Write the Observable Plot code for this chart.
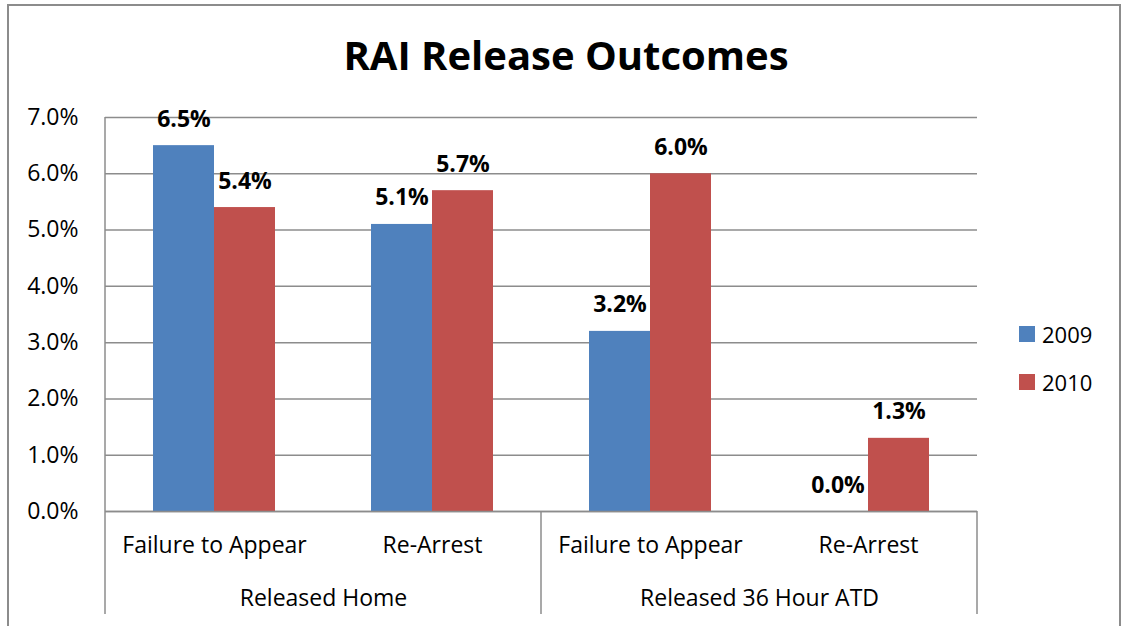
<!DOCTYPE html>
<html>
<head>
<meta charset="utf-8">
<script src="https://cdn.jsdelivr.net/npm/d3@7"></script>
<script src="https://cdn.jsdelivr.net/npm/@observablehq/plot@0.6"></script>
<style>
html, body { margin: 0; padding: 0; background: #fff; overflow: hidden; width: 1122px; height: 626px; }
#wrap { position: relative; width: 1122px; height: 626px; font-family: "Open Sans", sans-serif; color: #000; }
#frame { position: absolute; left: 7px; top: 4px; width: 1114px; height: 700px; border: 2px solid #8c8c8c; box-sizing: border-box; pointer-events: none; z-index: 5; }
#title { position: absolute; left: 8px; width: 1116px; top: 35px; height: 40px; line-height: 40px; text-align: center; font-weight: 700; font-size: 40px; color: #000; }
#chart { position: absolute; left: 0; top: 100px; }
#legend { position: absolute; left: 1019px; top: 310px; color: #000; }
#legend .lg-swatches { font-family: "Open Sans", sans-serif !important; font-size: 22px !important; margin: 0 !important; }
#legend .lg-swatch { height: 48px !important; padding: 0 !important; margin: 0 !important; display: flex !important; align-items: center !important; }
#legend .lg-swatch svg { margin-right: 7px !important; }
</style>
</head>
<body>
<div id="wrap">
  <div id="title">RAI Release Outcomes</div>
  <div id="chart"></div>
  <div id="legend"></div>
  <div id="frame"></div>
</div>
<script>
// ---- data ----
const groups = ["Released Home", "Released Home", "Released 36 Hour ATD", "Released 36 Hour ATD"];
const measures = ["Failure to Appear", "Re-Arrest", "Failure to Appear", "Re-Arrest"];
const years = ["2009", "2010"];
const values2009 = [6.5, 5.1, 3.2, 0.0];
const values2010 = [5.4, 5.7, 6.0, 1.3];
const yTicks = [0, 1, 2, 3, 4, 5, 6, 7];
const colors = ["#4F81BD", "#C0504D"];

// ---- tables built from the arrays ----
const keys = measures.map((m, i) => groups[i] + "|" + m);
const rows = [];
keys.forEach((k, i) => {
  rows.push({key: k, year: years[0], value: values2009[i]});
  rows.push({key: k, year: years[1], value: values2010[i]});
});
const groupLabels = [...new Set(groups)].map(g => ({group: g, key: keys[groups.indexOf(g)]}));

const H = 526;
const FS = 23;
const plot = Plot.plot({
  width: 1122,
  height: H,
  marginTop: 17,
  marginBottom: 115,
  marginLeft: 104,
  marginRight: 144,
  style: {background: "none", fontFamily: "'Open Sans', sans-serif", fontSize: FS + "px", color: "#000", overflow: "visible"},
  fx: {domain: keys, padding: 0, label: null},
  x: {domain: years, paddingInner: 0, paddingOuter: 0.76, axis: null},
  y: {domain: [0, 7], label: null},
  color: {domain: years, range: colors},
  marks: [
    Plot.gridY(yTicks, {stroke: "#8c8c8c", strokeOpacity: 1, strokeWidth: 1.5}),
    Plot.axisY(yTicks, {tickSize: 0, tickPadding: 27, tickFormat: d => d.toFixed(1) + "%", label: null, fontSize: FS}),
    Plot.axisFx({anchor: "bottom", tickSize: 0, tickPadding: 25, tickFormat: k => k.split("|")[1], label: null, fontSize: FS}),
    Plot.barY(rows, {fx: "key", x: "year", y: "value", fill: "year", inset: 0}),
    Plot.ruleY([0], {stroke: "#8c8c8c", strokeWidth: 1.5}),
    Plot.text(rows, {fx: "key", x: "year", y: "value", text: d => d.value.toFixed(1) + "%", dy: -19, lineAnchor: "bottom", fontWeight: "bold", fontSize: FS}),
    Plot.text(groupLabels, {fx: "key", text: "group", frameAnchor: "bottom-right", textAnchor: "middle", lineAnchor: "top", dy: 78, fontSize: FS})
  ]
});
document.getElementById("chart").appendChild(plot);

// category divider lines of the two-level axis, placed with the plot's own scales
const fx = plot.scale("fx"), y = plot.scale("y");
const svg = d3.select(plot.tagName.toLowerCase() === "svg" ? plot : plot.querySelector("svg"));
const bottom = H - 12;
const lines = [
  {x: fx.apply(keys[0]), y1: y.apply(7), y2: bottom},
  {x: fx.apply(groupLabels[1].key), y1: y.apply(0), y2: bottom},
  {x: fx.apply(keys[keys.length - 1]) + fx.bandwidth, y1: y.apply(0), y2: bottom}
];
svg.append("g").selectAll("line").data(lines).join("line")
  .attr("x1", d => d.x).attr("x2", d => d.x)
  .attr("y1", d => d.y1).attr("y2", d => d.y2)
  .attr("stroke", "#8c8c8c").attr("stroke-width", 1.5);

// legend from the plot's colour scale
const leg = plot.legend("color", {legend: "swatches", columns: 1, swatchSize: 16, className: "lg"});
document.getElementById("legend").appendChild(leg);
</script>
</body>
</html>
